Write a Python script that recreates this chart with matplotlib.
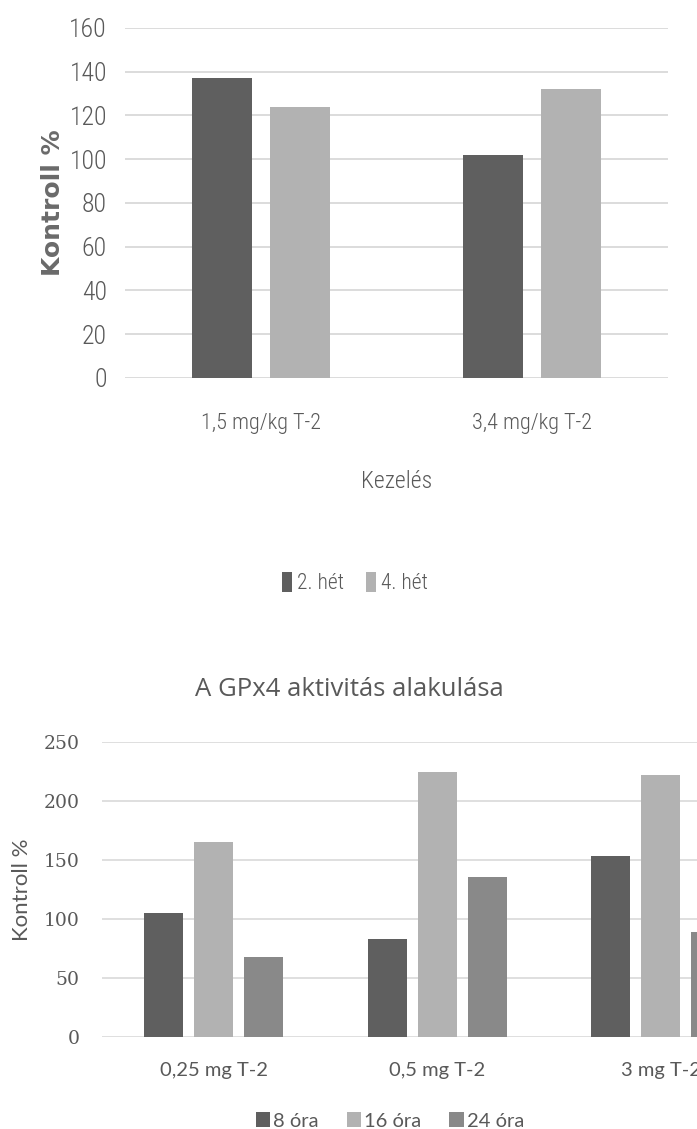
import matplotlib
matplotlib.use("Agg")
import matplotlib.pyplot as plt
import numpy as np
from matplotlib.patches import Patch
from matplotlib.font_manager import FontProperties

# ---- data ----
top_categories = ["1,5 mg/kg T-2", "3,4 mg/kg T-2"]
top_series = ["2. hét", "4. hét"]
top_week2 = [137, 102]
top_week4 = [124, 132]
top_yticks = [0, 20, 40, 60, 80, 100, 120, 140, 160]

bot_title = "A GPx4 aktivitás alakulása"
bot_categories = ["0,25 mg T-2", "0,5 mg T-2", "3 mg T-2"]
bot_series = ["8 óra", "16 óra", "24 óra"]
bot_8h = [105, 83, 153]
bot_16h = [165, 225, 222]
bot_24h = [68, 136, 89]
bot_yticks = [0, 50, 100, 150, 200, 250]

DARK = "#5f5f5f"
LIGHT = "#b2b2b2"
MID = "#898989"
GRID = "#d9d9d9"
TXT = "#595959"

W, H = 697, 1129
fig = plt.figure(figsize=(W / 100, H / 100), dpi=100)
fig.patch.set_facecolor("white")

NARROW_FAM = ["Roboto Condensed", "DejaVu Sans"]


def narrow(size):
    return FontProperties(family=NARROW_FAM, stretch="condensed", weight="light", size=size)


# ---- top chart ----
ax1 = fig.add_axes([125 / W, 1 - 378 / H, 543 / W, 350 / H])
x = np.arange(len(top_categories))
bw = 0.22
off = 0.1436
ax1.bar(x - off, top_week2, bw, color=DARK, zorder=3, label=top_series[0])
ax1.bar(x + off, top_week4, bw, color=LIGHT, zorder=3, label=top_series[1])
ax1.set_xlim(-0.5, len(top_categories) - 0.5)
ax1.set_ylim(0, 160)
ax1.set_yticks(top_yticks)
ax1.set_yticklabels([str(v) for v in top_yticks], fontproperties=narrow(18.5), color=TXT)
ax1.set_xticks(x)
ax1.set_xticklabels(top_categories, fontproperties=narrow(16), color=TXT)
ax1.tick_params(axis="both", length=0)
ax1.tick_params(axis="y", pad=13)
ax1.tick_params(axis="x", pad=25)
ax1.grid(axis="y", color=GRID, linewidth=1.3, zorder=0)
for s in ax1.spines.values():
    s.set_visible(False)
ax1.set_ylabel("Kontroll %", family=["DejaVu Sans"], fontweight="bold", fontsize=18,
               color="#6a6a6a")
ax1.yaxis.set_label_coords(-(125 - 53) / 543, 0.5)
ax1.yaxis.label.set_va("center")
ax1.set_xlabel("Kezelés", fontproperties=narrow(17), color=TXT)
ax1.xaxis.set_label_coords(0.5, -(482 - 378) / 350)
ax1.xaxis.label.set_va("center")
h1 = [Patch(facecolor=DARK), Patch(facecolor=LIGHT)]
fig.legend(h1, top_series, loc="center", bbox_to_anchor=(355 / W, 1 - 583 / H),
           ncol=2, frameon=False, prop=narrow(15.5),
           labelcolor=TXT, handlelength=0.45, handleheight=1.1, handletextpad=0.25,
           columnspacing=1.0)

# ---- bottom chart ----
ax2 = fig.add_axes([102 / W, 1 - 1037 / H, 670.5 / W, 295 / H])
x2 = np.arange(len(bot_categories))
bw2 = 0.175
off2 = 0.224
ax2.bar(x2 - off2, bot_8h, bw2, color=DARK, zorder=3)
ax2.bar(x2, bot_16h, bw2, color=LIGHT, zorder=3)
ax2.bar(x2 + off2, bot_24h, bw2, color=MID, zorder=3)
ax2.set_xlim(-0.5, len(bot_categories) - 0.5)
ax2.set_ylim(0, 250)
ax2.set_yticks(bot_yticks)
ax2.set_yticklabels([str(v) for v in bot_yticks], family=["DejaVu Serif"],
                    fontsize=13.5, color=TXT)
ax2.set_xticks(x2)
ax2.set_xticklabels(bot_categories, family=["Lato", "DejaVu Sans"], fontsize=14.5, color=TXT)
ax2.tick_params(axis="both", length=0)
ax2.tick_params(axis="y", pad=16)
ax2.tick_params(axis="x", pad=18)
ax2.grid(axis="y", color=GRID, linewidth=1.2, zorder=0)
for s in ax2.spines.values():
    s.set_visible(False)
ax2.set_ylabel("Kontroll %", family=["Lato", "DejaVu Sans"], fontsize=16, color=TXT)
ax2.yaxis.set_label_coords(-(102 - 22) / 670.5, 0.5)
ax2.yaxis.label.set_va("center")
fig.text(349 / W, 1 - 690 / H, bot_title, ha="center", va="center",
         family=["Open Sans", "DejaVu Sans"], fontsize=18.5, color=TXT)
h2 = [Patch(facecolor=DARK), Patch(facecolor=LIGHT), Patch(facecolor=MID)]
fig.legend(h2, bot_series, loc="center", bbox_to_anchor=(390 / W, 1 - 1121 / H),
           ncol=3, frameon=False, prop={"family": ["Lato", "DejaVu Sans"], "size": 14.5},
           labelcolor=TXT, handlelength=0.7, handleheight=0.7, handletextpad=0.15,
           columnspacing=1.4)

fig.savefig("out.png", dpi=100)
